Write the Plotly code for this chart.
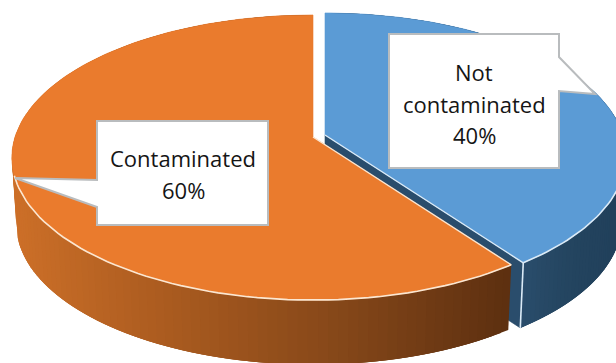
import numpy as np
import plotly.graph_objects as go

slice_names = ["Contaminated", "Not contaminated"]
slice_shares = [60, 40]
face_colors = ["#EA7B2D", "#5B9BD5"]
rim_colors = ["#FBE7D2", "#DCEBF7"]
side_ramps = [("#CC6F28", "#A85A1F", "#854719", "#5E3010"), ("#2A4D6C", "#244560", "#21405B")]
callout_lines = [["Contaminated", "60%"], ["Not", "contaminated", "40%"]]

WIDTH, HEIGHT = 616, 363

# Perspective projection of the pie's two circular planes onto the canvas.
CENTER_X, CENTER_Y = 313.0, 137.0
RADIUS_X, RADIUS_Y = 298.0, 139.6
TILT = 0.144
DEPTH = 67.0
BOTTOM_SCALE = 0.985
EXPLODE = {0: (0.0, 0.0), 1: (12.0, -2.0)}
LINE_STEP = 31.5


def project(theta, index, lower=False):
    """theta is measured clockwise from the far edge of the disc, in radians."""
    dx, dy = EXPLODE[index]
    u, v = np.sin(theta), np.cos(theta)
    w = 1 + TILT * v
    scale = BOTTOM_SCALE if lower else 1.0
    x = CENTER_X + dx + RADIUS_X * scale * u / w
    y = CENTER_Y + dy + (DEPTH if lower else 0.0) - RADIUS_Y * scale * v / w
    return x, y


def hex_rgb(color):
    return np.array([int(color[i:i + 2], 16) for i in (1, 3, 5)], dtype=float)


def ramp_color(stops, t):
    pos = t * (len(stops) - 1)
    i = min(int(pos), len(stops) - 2)
    mix = hex_rgb(stops[i]) * (1 - (pos - i)) + hex_rgb(stops[i + 1]) * (pos - i)
    return "rgb({:.0f},{:.0f},{:.0f})".format(*mix)


def polygon(fig, xs, ys, color, edge=True):
    fig.add_trace(go.Scatter(
        x=xs, y=ys, mode="lines", fill="toself", fillcolor=color,
        line=dict(color=color, width=0.6 if edge else 0), hoverinfo="skip", showlegend=False,
    ))


def stroke(fig, xs, ys, color, width):
    fig.add_trace(go.Scatter(
        x=xs, y=ys, mode="lines", line=dict(color=color, width=width),
        hoverinfo="skip", showlegend=False,
    ))


# Slice angles follow the shares: blue runs clockwise from the top, orange takes the rest.
blue_sweep = 2 * np.pi * slice_shares[1] / sum(slice_shares)
ranges = {1: (0.0, blue_sweep), 0: (blue_sweep, 2 * np.pi)}

fig = go.Figure()

for index in (1, 0):
    start, end = ranges[index]
    thetas = np.linspace(start, end, 130)

    # Outer wall: overlapping strips painted in angle order, each one lapping the
    # next so the shading ramp stays free of hairline seams.
    for k in range(len(thetas) - 1):
        a = thetas[k]
        b = thetas[min(k + 3, len(thetas) - 1)]
        arc = np.linspace(a, b, 4)
        xa, ya = project(arc, index)
        xc, yc = project(arc[::-1], index, lower=True)
        mid_x = float(project(thetas[k], index)[0])
        if index == 0:
            t = float(np.clip((mid_x - 15) / (510 - 15), 0, 1))
        else:
            t = float(np.clip((mid_x - 525) / (616 - 525), 0, 1))
        polygon(fig, np.r_[xa, xc, xa[0]], np.r_[ya, yc, ya[0]], ramp_color(side_ramps[index], t), edge=False)

    # The cut wall of the pulled-out slice shows along its leading radius.
    if index == 1:
        ax, ay = CENTER_X + EXPLODE[1][0], CENTER_Y + EXPLODE[1][1]
        tx, ty = project(end, 1)
        bx, by = project(end, 1, lower=True)
        polygon(fig, [ax, tx, bx, ax, ax], [ay, ty, by, ay + DEPTH, ay], side_ramps[1][0])

    # Top face of the slice.
    ox, oy = CENTER_X + EXPLODE[index][0], CENTER_Y + EXPLODE[index][1]
    rim_x, rim_y = project(thetas, index)
    polygon(fig, np.r_[ox, rim_x, ox], np.r_[oy, rim_y, oy], face_colors[index])

    # Pale bevel along the front rim and the cut edge.
    front = np.cos(thetas) < -0.26 if index == 0 else np.cos(thetas) < 0.12
    stroke(fig, rim_x[front], rim_y[front], rim_colors[index], 1.6)
    if index == 1:
        tx, ty = project(end, 1)
        bx, by = project(end, 1, lower=True)
        stroke(fig, [ox, tx], [oy, ty], rim_colors[1], 1.4)
        stroke(fig, [tx, bx], [ty, by], rim_colors[1], 1.6)
    else:
        tx, ty = project(start, 0)
        stroke(fig, [ox, tx], [oy, ty], rim_colors[0], 1.4)

# Callout boxes with pointers towards their slices.
callouts = [
    dict(path="M97,121 L268,121 L268,225 L97,225 L97,207 L15,178 L97,180 Z", tx=183, ty=158),
    dict(path="M389,34 L559,34 L559,57 L595,94 L559,91 L559,168 L389,168 Z", tx=474, ty=72),
]
for box, lines in zip(callouts, callout_lines):
    fig.add_shape(type="path", path=box["path"], xref="x", yref="y", layer="above",
                  fillcolor="white", line=dict(color="#B9BCBE", width=2))
    for row, text in enumerate(lines):
        fig.add_annotation(x=box["tx"], y=box["ty"] + row * LINE_STEP, xref="x", yref="y",
                           text=text, showarrow=False,
                           font=dict(family="Open Sans", size=22, color="#151515"))

fig.update_layout(
    width=WIDTH, height=HEIGHT, margin=dict(l=0, r=0, t=0, b=0),
    paper_bgcolor="white", plot_bgcolor="white", showlegend=False,
    xaxis=dict(range=[0, WIDTH], visible=False, fixedrange=True),
    yaxis=dict(range=[HEIGHT, 0], visible=False, fixedrange=True),
)

fig.write_html("out.html", config={"displayModeBar": False})
